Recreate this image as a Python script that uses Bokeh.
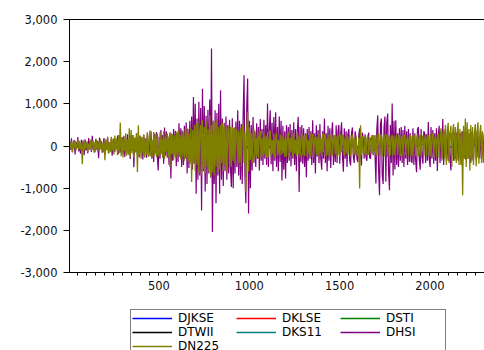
from bokeh.plotting import figure
from bokeh.layouts import column
from bokeh.models import (Range1d, SingleIntervalTicker, NumeralTickFormatter, Legend,
                          LegendItem, LinearAxis, FixedTicker)
from bokeh.embed import file_html
from bokeh.resources import INLINE

series_names = ["DJKSE", "DKLSE", "DSTI", "DTWII", "DKS11", "DHSI", "DN225"]
series_colors = ["#0000FF", "#FF0000", "#008000", "#000000", "#008080", "#800080", "#808000"]

main_step = 5     # observations between listed values for DHSI / DN225
small_step = 50   # observations between listed values for the small series

dhsi = [
    -260, 120, -90, 180, -150, 60, 140, -200, 90, -60, 210, -130, 70, -180, 150, -40, 100, -220, 160, -110,
    80, -170, 190, -60, 130, -140, 240, -100, 50, -150, 170, -90, 120, -290, 200, -70, 110, -160, 60, 190,
    -210, 130, -80, 220, -170, 90, -120, 160, -230, 70, 180, -140, 100, -60, 250, -190, 120, -150, 80, 210,
    -180, 240, -260, 110, -90, 280, -200, 150, -310, 130, -120, 260, -505, 190, -150, 300, -220, 90, -270, 230,
    -150, 200, -320, 260, -110, 180, -280, 320, -190, 140, -240, 350, -300, 120, -380, 290, -160, 330, -250, -580,
    220, -300, 380, -160, 260, -420, 440, -230, 350, -280, 190, -450, 320, -770, 280, -350, 400, -200, 360, -480,
    300, -380, 540, -260, 420, -500, 350, -450, 480, -300, 560, -650, 400, -520, 600, -380, 700, -560, 1160, -420,
    1000, -1130, 650, -800, 1050, -700, 900, -1530, 1360, -600, 950, -1080, 720, -900, 860, -650, 1100, -750, 2310, -2040,
    600, -900, 850, -1360, 780, -700, 1000, -1130, 1320, -800, 650, -950, 550, -600, 700, -800, 500, -650, 620, -550,
    -970, 660, -1000, 445, -650, 580, -500, 850, -700, 600, -800, 520, -900, 700, 1680, -700, -1360, 900, 1600, -1600,
    600, -1000, 500, -580, 690, -400, 350, -500, 540, -300, 450, -580, 640, -350, 400, -450, 620, -300, 500, -450,
    1010, -500, 400, 850, -430, 550, -600, 690, -350, 800, -500, 450, -600, 700, -380, 600, -820, 480, -560, 350,
    -770, 500, -400, 450, -350, 520, -480, 380, -300, 560, -450, 400, -600, 350, 690, -1090, 450, -380, 500, -420,
    420, -500, 300, -740, 400, -350, 450, -300, 350, -450, 610, -400, 300, -650, 490, -250, 380, -410, 520, -300,
    -560, 350, -300, 650, -400, 300, -600, 480, -350, 420, -520, 300, 560, -450, 250, -380, 490, -400, 350, 500,
    -420, 300, 560, -250, -610, 420, -300, 350, -500, 280, 400, -350, -460, 300, 440, -250, -400, 350, 200, -300,
    -380, 250, 420, -200, -460, 320, 180, -300, 280, -250, -350, 200, 320, -280, -300, 150, 260, -220, 240, -200,
    -890, 400, 730, -600, -1170, 500, 650, -700, -900, 450, 700, -850, 550, 770, -600, -1050, 500, -400, 1010, -700,
    600, -560, 610, -450, 300, -500, 420, -350, 450, -400, 380, -500, 480, -300, 350, -450, 400, -380, 300, -350,
    -400, 420, -450, 300, -350, -620, 380, 450, -300, -560, 400, -250, -420, 350, 300, -400, 280, -350, 570, -300,
    -500, 450, -300, 380, -420, 300, -350, 420, -590, 250, 480, -400, 350, -300, 640, -450, 300, 380, -350, 250,
    -350, 330, -250, -580, 300, 200, -350, 320, -300, 250, 330, -350, -200, 300, 280, -320, 350, -280, 220, -300,
    -320, 350, -300, 200, 280, -400, 330, -250, -350, 300, 250, -320, 350, -280, 200, -300, 320, -250, 280, -300,
    300]

dn225 = [
    -120, 80, -60, 110, -140, 90, -50, 130, -100, 60, 150, -80, 120, -90, 70, -435, 140, -110, 90, -60,
    110, -140, 60, -90, 150, -120, 80, 130, -160, 100, -70, 140, -130, 90, -110, 170, -80, 60, -150, 120,
    -340, 160, -100, 200, -180, 90, -150, 220, -120, 170, -200, 250, -90, 180, -220, 260, -160, 555, -240, 200,
    -270, 180, -120, 300, -230, 150, -200, 420, -260, 380, -180, 260, -280, 200, -150, 300, -615, 490, -220, 250,
    -300, 220, -180, 280, -270, 160, -200, 300, -260, 180, 370, -240, 150, -270, 330, -200, 260, -260, 300, -180,
    -250, 320, -200, 180, -280, 350, -300, 220, -150, 300, -260, 240, -500, 320, -200, 280, -340, 250, -280, 340,
    -300, 360, -220, 280, -320, 380, -250, 300, -350, 400, -280, 420, -380, 300, -420, 440, -855, 380, -400, 500,
    -600, 550, -450, 600, -650, 400, 500, -700, 610, -550, 450, -650, 580, -500, 400, -600, 730, -735, 500, -620,
    600, -700, 550, -500, 620, -620, 450, -550, 500, -400, 550, -600, 480, -450, 400, -600, 350, 480, -500, 450,
    -500, 450, -350, 420, -420, 380, 400, -450, 350, -400, 420, -500, 450, 500, -400, 350, -1090, 450, 810, -600,
    440, -330, 300, -400, 250, 400, -300, 200, -250, 370, -300, 280, 350, -270, 200, -230, 330, -200, 250, -270,
    330, -260, 200, 370, -250, 150, -200, 300, -270, 180, 320, -240, 150, -200, 280, -220, 250, -180, 200, -260,
    300, -250, 180, 340, -270, 200, -150, 280, -260, 310, -180, 150, -240, 330, -200, 250, -270, 180, 300, -220,
    250, -240, 200, 280, -260, 150, -200, 300, -250, 180, 280, -270, 150, 260, -200, 220, -240, 300, -180, 200,
    -240, 300, -150, 260, 280, -250, 180, -220, 270, -240, 200, 300, -230, 150, 260, -200, 230, -250, 280, -200,
    -250, 280, -150, 240, 260, -230, 200, -180, 250, -220, 150, 260, -240, 200, 270, -200, 180, -230, 220, -180,
    -230, 200, -1010, 490, -220, 240, -150, -200, 230, -220, 180, 250, -210, 150, 200, -180, 240, -200, 260, -150,
    260, -240, 180, 300, -230, 150, 280, -250, 200, 270, -240, 180, 280, -260, 150, 250, -230, 200, 270, -220,
    250, -230, 180, 270, -220, 150, 260, -240, 200, 250, -230, 180, 270, -220, 150, 240, -250, 200, 260, -230,
    240, -250, 150, 260, -230, 180, 280, -240, 200, 270, -260, 150, 250, -230, 180, 280, -250, 200, 260, -230,
    280, -250, 200, 300, -270, 150, 260, -260, 200, 300, -280, 180, 420, -350, 250, 400, -300, 500, -450, 350,
    550, -400, 300, 480, -500, 350, 520, -350, 450, -400, 300, 560, -450, 400, -450, 350, -1170, 480, -300, 650,
    -500, 560, -300, 400, -580, 500, -350, 450, -450, 300, 520, -480, 350, 560, -420, 300, 500, -400, 350, -380,
    -400]

djkse = [-20, 25, -30, 20, -25, 30, -35, 28, -40, 35,
         -30, 40, -45, 38, -50, 45, -60, 55, -70, 60,
         -50, 45, -40, 35, -30, 40, -35, 30, -45, 40,
         -50, 45, -40, 55, -60, 50, -45, 40, -55, 60,
         -50, 45, -60, 55, -50, 45, -40]
dklse = [-8, 10, -12, 9, -10, 12, -14, 11, -15, 13,
         -12, 15, -18, 14, -20, 18, -22, 20, -25, 22,
         -18, 16, -14, 12, -10, 12, -11, 10, -13, 12,
         -14, 12, -11, 13, -15, 12, -10, 11, -13, 12,
         -11, 10, -12, 11, -10, 9, -8]
dsti = [-20, 25, -30, 22, -28, 30, -35, 32, -40, 38,
        -45, 50, -55, 48, -60, 55, -70, 65, -75, 60,
        -55, 50, -40, 35, -30, 35, -32, 30, -35, 32,
        -38, 35, -30, 40, -45, 38, -35, 32, -40, 42,
        -38, 35, -40, 38, -35, 30, -28]
dtwii = [-50, 60, -55, 50, -60, 65, -70, 60, -75, 70,
         -70, 80, -85, 75, -90, 85, -95, 90, -95, 85,
         -80, 75, -70, 65, -60, 65, -60, 55, -65, 60,
         -65, 60, -55, 65, -70, 60, -55, 55, -65, 70,
         -60, 55, -65, 60, -55, 50, -50]
dks11 = [-15, 18, -20, 16, -18, 20, -22, 19, -25, 22,
         -24, 26, -30, 25, -32, 30, -40, 35, -42, 38,
         -30, 28, -25, 22, -20, 24, -22, 20, -25, 22,
         -26, 24, -22, 26, -28, 24, -22, 20, -25, 28,
         -30, 28, -32, 30, -28, 25, -22]

series_values = [djkse, dklse, dsti, dtwii, dks11, dhsi, dn225]
series_steps = [small_step] * 5 + [main_step] * 2
series_widths = [1, 1, 1, 1, 1, 1.2, 1.3]

FONT = "DejaVu Sans"

p = figure(width=484, height=306, output_backend="svg", toolbar_location=None,
           x_range=Range1d(5, 2302), y_range=Range1d(-3000, 3000),
           min_border_left=69, min_border_right=0, min_border_top=19, min_border_bottom=34)
p.grid.visible = False
p.outline_line_color = None

p.xaxis.ticker = SingleIntervalTicker(interval=500, num_minor_ticks=10)
p.yaxis.ticker = SingleIntervalTicker(interval=1000, num_minor_ticks=0)
p.yaxis.formatter = NumeralTickFormatter(format="0,0")
for ax in (p.xaxis[0], p.yaxis[0]):
    ax.axis_line_color = "black"
    ax.major_tick_line_color = "black"
    ax.minor_tick_line_color = "black"
    ax.major_tick_in = 0
    ax.minor_tick_in = 0
    ax.major_label_text_font = FONT
    ax.major_label_text_font_size = "11.5px"
    ax.major_label_text_color = "#111111"
p.xaxis.major_tick_out = 3
p.xaxis.minor_tick_out = 3
p.xaxis.major_label_standoff = 5
p.yaxis.major_tick_out = 6
p.yaxis.minor_tick_out = 0
p.yaxis.major_label_standoff = 6

top_axis = LinearAxis(ticker=FixedTicker(ticks=[]), axis_line_color="black",
                      major_tick_line_color=None, minor_tick_line_color=None,
                      major_label_text_font_size="0px")
p.add_layout(top_axis, "above")

# legend strip below the chart (same series, ranges placed so no data shows)
p2 = figure(width=484, height=44, output_backend="svg", toolbar_location=None,
            x_range=Range1d(-1000, -900), y_range=Range1d(-1000, -900),
            x_axis_type=None, y_axis_type=None,
            min_border_left=69, min_border_right=0, min_border_top=0, min_border_bottom=0)
p2.grid.visible = False
p2.outline_line_color = None

items = []
for name, color, vals, step, lw in zip(series_names, series_colors, series_values,
                                       series_steps, series_widths):
    xs = [1 + step * i for i in range(len(vals))]
    p.line(xs, vals, line_color=color, line_width=lw)
    r2 = p2.line(xs, vals, line_color=color, line_width=1.6)
    items.append(LegendItem(label=name, renderers=[r2]))

legend = Legend(items=items, orientation="horizontal", ncols=3,
                location=(61, -5), margin=0, padding=1, spacing=0,
                glyph_width=40, glyph_height=14, label_height=14,
                label_standoff=6, label_width=58,
                label_text_font=FONT, label_text_font_size="12px",
                label_text_color="#000000",
                border_line_color="black", border_line_width=1,
                background_fill_color="white", background_fill_alpha=1.0)
p2.add_layout(legend, "center")

layout = column(p, p2, spacing=0)
open("out.html", "w").write(file_html(layout, INLINE))
